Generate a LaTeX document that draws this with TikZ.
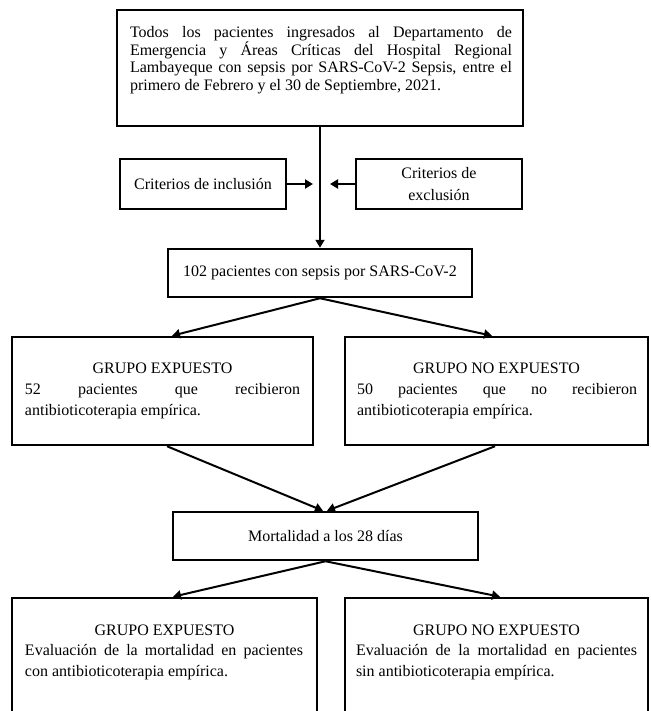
\documentclass[tikz,border=0pt]{standalone}
\usepackage{fontspec}
\setmainfont{Liberation Serif}
\usetikzlibrary{arrows.meta}
\hyphenpenalty=10000
\exhyphenpenalty=10000
% #1 width, #2 height, #3 first baseline from top, #4 left pad, #5 right pad, #6 baselineskip, #7 content
\newcommand\bxt[7]{\vbox to #2{\hsize=#1\relax\leftskip=#4\relax\rightskip=#5\relax
  \parindent=0pt\parfillskip=0pt plus 1fil\relax
  \fontsize{16}{#6}\selectfont\tolerance=10000\hyphenpenalty=10000\relax
  \vskip\dimexpr#3-12pt\relax\leavevmode\vrule height12pt depth0pt width0pt\relax #7\par\vss}}
\begin{document}
\begin{tikzpicture}[x=1pt,y=-1pt,
  frame/.style={draw, line width=2.5pt, inner sep=0pt},
  sbox/.style={frame, align=center, font=\fontsize{16}{21.5}\selectfont},
  conn/.style={line width=2pt, -{Triangle[length=8pt,width=9pt]}}]
\fill[white] (0,0) rectangle (650,711);
\useasboundingbox (0,0) rectangle (650,711);

\node[frame] (top) at (320,68) {\bxt{406pt}{116pt}{28pt}{13pt}{11pt}{17.5pt}{%
Todos los pacientes ingresados al Departamento de\linebreak
Emergencia y Áreas Críticas del Hospital Regional\linebreak
Lambayeque con sepsis por SARS-CoV-2 Sepsis, entre el\linebreak
primero de Febrero y el 30 de Septiembre, 2021.}};

\node[sbox, minimum width=166pt, minimum height=50pt] (incl) at (203,184) {Criterios de inclusión};
\node[sbox, minimum width=166pt, minimum height=50pt] (excl) at (439,184) {Criterios de\\exclusión};

\node[sbox, minimum width=304pt, minimum height=48pt] (n102) at (320,273) {102 pacientes con sepsis por SARS-CoV-2};

\node[frame] (gexp) at (162.5,391) {\bxt{301pt}{108pt}{36pt}{13pt}{13pt}{21pt}{%
{\centering GRUPO EXPUESTO\par}%
52 pacientes que recibieron\linebreak
antibioticoterapia empírica.}};

\node[frame] (gnoexp) at (496.5,391) {\bxt{303pt}{108pt}{36pt}{12pt}{11pt}{21pt}{%
{\centering GRUPO NO EXPUESTO\par}%
50 pacientes que no recibieron\linebreak
antibioticoterapia empírica.}};

\node[sbox, minimum width=305pt, minimum height=48pt] (mort) at (325.5,536) {Mortalidad a los 28 días};

\node[frame] (bexp) at (164.5,669) {\bxt{305pt}{142pt}{37pt}{13pt}{14pt}{20.5pt}{%
{\centering GRUPO EXPUESTO\par}%
Evaluación de la mortalidad en pacientes\linebreak
con antibioticoterapia empírica.}};

\node[frame] (bnoexp) at (496.5,669) {\bxt{303pt}{142pt}{37pt}{11pt}{11pt}{20.5pt}{%
{\centering GRUPO NO EXPUESTO\par}%
Evaluación de la mortalidad en pacientes\linebreak
sin antibioticoterapia empírica.}};

\coordinate (inclTip) at (313,184);
\coordinate (exclTip) at (330,184);

\draw[conn] (top.south) -- (n102.north);
\draw[conn] (incl.east) -- (inclTip);
\draw[conn] (excl.west) -- (exclTip);
\draw[conn] (n102.south) -- ([xshift=9.5pt]gexp.north);
\draw[conn] (n102.south) -- ([xshift=-4.5pt]gnoexp.north);
\draw[conn] ([xshift=4.5pt]gexp.south) -- ([xshift=-2.5pt]mort.north);
\draw[conn] ([xshift=-1.5pt]gnoexp.south) -- ([xshift=1.5pt]mort.north);
\draw[conn] (mort.south) -- ([xshift=8.5pt]bexp.north);
\draw[conn] (mort.south) -- ([xshift=3.5pt]bnoexp.north);
\end{tikzpicture}
\end{document}
